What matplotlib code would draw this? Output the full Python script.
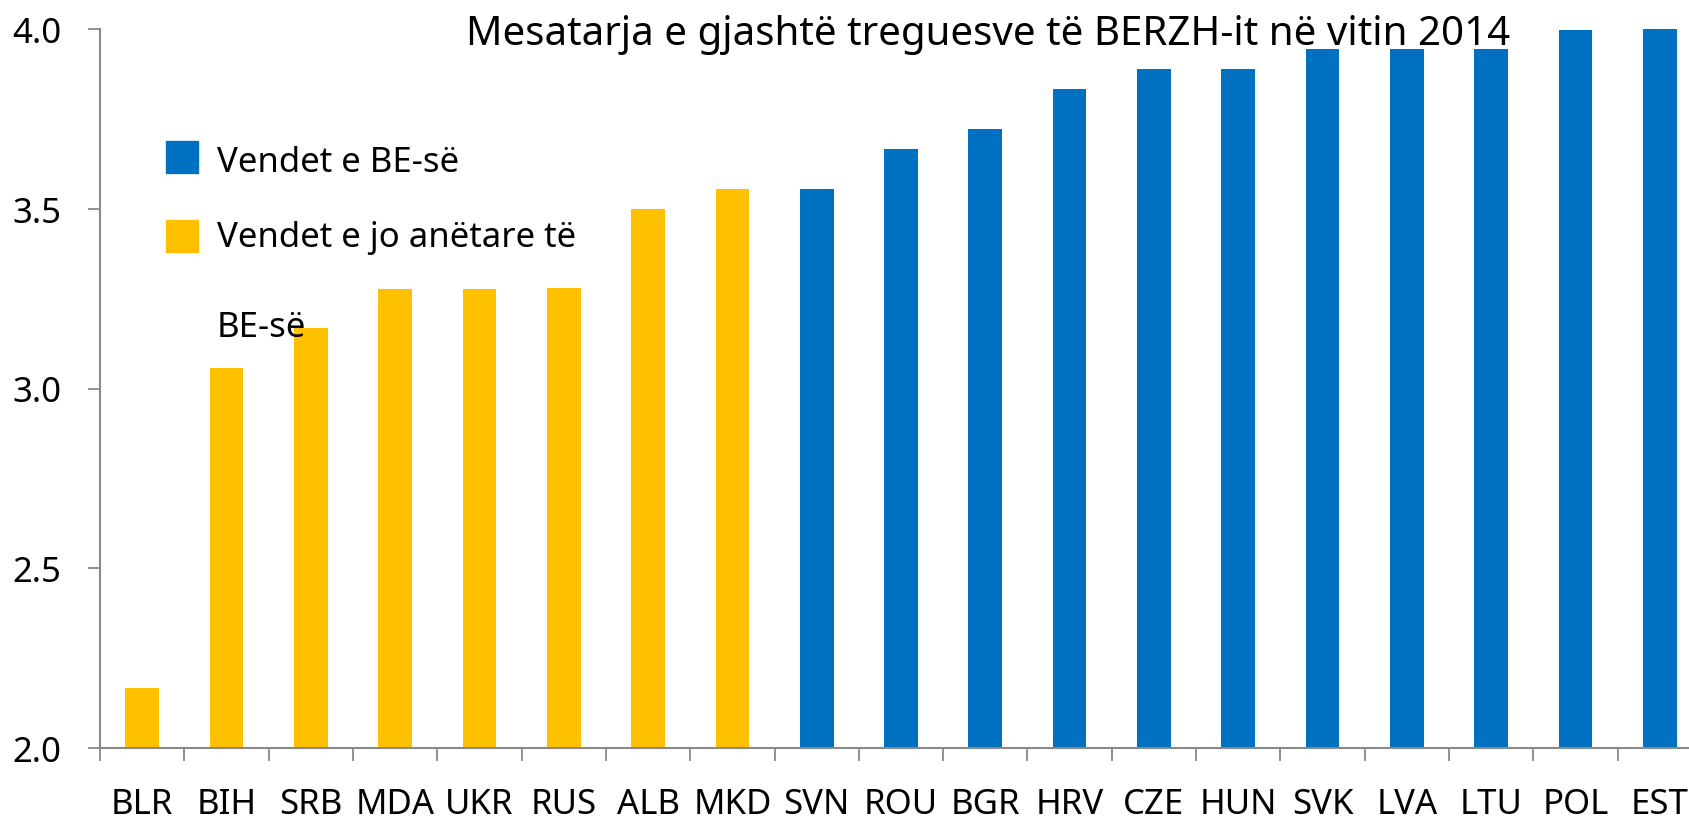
import matplotlib
matplotlib.use("Agg")
from matplotlib import pyplot as plt
from matplotlib.patches import Rectangle
from matplotlib.ticker import FixedLocator

plt.rcParams['font.family'] = ['Noto Sans', 'DejaVu Sans']

# të dhënat
vendet = ["BLR", "BIH", "SRB", "MDA", "UKR", "RUS", "ALB", "MKD", "SVN", "ROU",
          "BGR", "HRV", "CZE", "HUN", "SVK", "LVA", "LTU", "POL", "EST"]
vlerat = [2.167, 3.056, 3.167, 3.278, 3.278, 3.280, 3.500, 3.556, 3.556, 3.667,
          3.722, 3.833, 3.889, 3.889, 3.944, 3.944, 3.944, 3.998, 4.0]
anetare_be = [False] * 8 + [True] * 11

blu = "#0070C0"
verdhe = "#FFC000"
gri = "#898989"

fig = plt.figure(figsize=(16.9, 8.2), dpi=100)
ax = fig.add_axes([100 / 1690, 71 / 820, 1602 / 1690, 719 / 820])

xs = list(range(len(vendet)))
ngjyrat = [blu if be else verdhe for be in anetare_be]
ax.bar(xs, [v - 2.0 for v in vlerat], bottom=2.0, width=0.4, color=ngjyrat)

ax.set_xlim(-0.5, len(vendet) - 0.5)
ax.set_ylim(2.0, 4.0)
ax.set_yticks([2.0, 2.5, 3.0, 3.5, 4.0])
ax.set_yticklabels(["2.0", "2.5", "3.0", "3.5", "4.0"])
ax.set_xticks(xs)
ax.set_xticklabels(vendet)
ax.xaxis.set_minor_locator(FixedLocator([i - 0.5 for i in range(len(vendet) + 1)]))

ax.tick_params(axis='x', which='major', length=0, pad=28, labelsize=25)
ax.tick_params(axis='x', which='minor', length=9, width=1.3, color=gri, direction='out')
ax.tick_params(axis='y', length=9, width=1.3, color=gri, pad=19, labelsize=25)

for s in ["top", "right"]:
    ax.spines[s].set_visible(False)
for s in ["left", "bottom"]:
    ax.spines[s].set_color(gri)
    ax.spines[s].set_linewidth(1.5)

# titulli
fig.text(988 / 1690, 1 - 45 / 820, "Mesatarja e gjashtë treguesve të BERZH-it në vitin 2014",
         ha='center', va='baseline', fontsize=29)

# legjenda
fig.patches.append(Rectangle((166 / 1690, 1 - 174 / 820), 32 / 1690, 32 / 820,
                             transform=fig.transFigure, color=blu))
fig.patches.append(Rectangle((166 / 1690, 1 - 253 / 820), 32 / 1690, 32 / 820,
                             transform=fig.transFigure, color=verdhe))
fig.text(217 / 1690, 1 - 172 / 820, "Vendet e BE-së", fontsize=25, va='baseline')
fig.text(217 / 1690, 1 - 247 / 820, "Vendet e jo anëtare të", fontsize=25, va='baseline')
fig.text(217 / 1690, 1 - 337 / 820, "BE-së", fontsize=25, va='baseline')

fig.savefig("out.png", dpi=100)
